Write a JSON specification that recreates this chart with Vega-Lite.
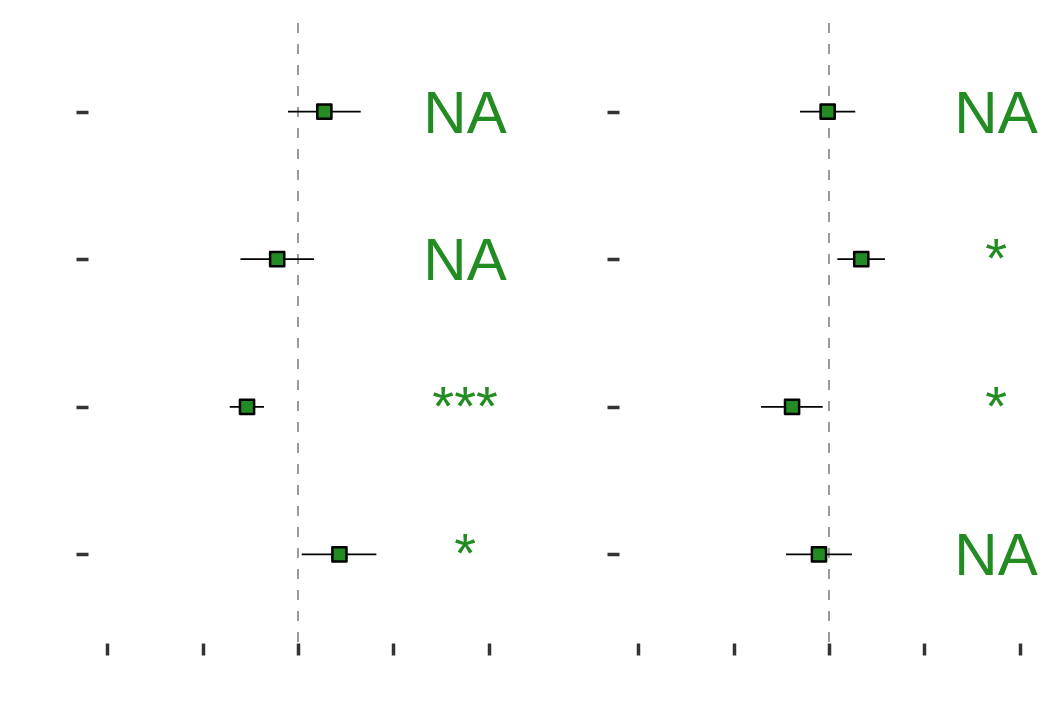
{
  "$schema": "https://vega.github.io/schema/vega-lite/v6.json",
  "padding": {"left": 74, "top": 22, "right": 0, "bottom": 0},
  "autosize": {"type": "pad"},
  "background": "white",
  "spacing": 97,
  "config": {
    "view": {"stroke": null},
    "axis": {"grid": false, "domain": false, "labels": false, "title": null, "ticks": true, "tickSize": 12, "tickWidth": 3.5, "tickColor": "#333333", "minExtent": 0}
  },
  "datasets": {
    "est": [
      {"panel": "A", "term": "t1", "est": 0.276, "lo": -0.105, "hi": 0.657, "sig": "NA"},
      {"panel": "A", "term": "t2", "est": -0.218, "lo": -0.603, "hi": 0.168, "sig": "NA"},
      {"panel": "A", "term": "t3", "est": -0.534, "lo": -0.715, "hi": -0.356, "sig": "***"},
      {"panel": "A", "term": "t4", "est": 0.434, "lo": 0.039, "hi": 0.821, "sig": "*"},
      {"panel": "B", "term": "t1", "est": -0.014, "lo": -0.304, "hi": 0.275, "sig": "NA"},
      {"panel": "B", "term": "t2", "est": 0.338, "lo": 0.087, "hi": 0.586, "sig": "*"},
      {"panel": "B", "term": "t3", "est": -0.387, "lo": -0.712, "hi": -0.066, "sig": "*"},
      {"panel": "B", "term": "t4", "est": -0.105, "lo": -0.45, "hi": 0.24, "sig": "NA"}
    ],
    "zero": [{"ref": 0}]
  },
  "hconcat": [
    {
      "width": 420, "height": 620,
      "layer": [
        {
          "data": {"name": "zero"},
          "mark": {"type": "rule", "color": "#9a9a9a", "strokeWidth": 2, "strokeDash": [10, 11]},
          "encoding": {"x": {"field": "ref", "type": "quantitative", "scale": {"domain": [-2.2, 2.2], "nice": false, "zero": false}, "axis": {"values": [-2, -1, 0, 1, 2]}}}
        },
        {
          "data": {"name": "est"},
          "transform": [{"filter": "datum.panel === 'A'"}],
          "layer": [
            {
              "mark": {"type": "rule", "color": "black", "strokeWidth": 1.8},
              "encoding": {
                "y": {"field": "term", "type": "nominal", "sort": null, "scale": {"type": "point", "padding": 0.6}, "axis": {}},
                "x": {"field": "lo", "type": "quantitative"},
                "x2": {"field": "hi"}
              }
            },
            {
              "mark": {"type": "point", "shape": "square", "filled": true, "fill": "#228B22", "stroke": "black", "strokeWidth": 2.5, "strokeJoin": "round", "size": 200, "opacity": 1},
              "encoding": {
                "y": {"field": "term", "type": "nominal", "sort": null},
                "x": {"field": "est", "type": "quantitative"}
              }
            },
            {
              "transform": [{"filter": "datum.sig === 'NA'"}],
              "mark": {"type": "text", "font": "Liberation Sans", "fontSize": 60, "color": "#228B22", "align": "center", "baseline": "alphabetic", "dy": 21},
              "encoding": {
                "y": {"field": "term", "type": "nominal", "sort": null},
                "x": {"datum": 1.75, "type": "quantitative"},
                "text": {"field": "sig"}
              }
            },
            {
              "transform": [{"filter": "datum.sig !== 'NA'"}],
              "mark": {"type": "text", "font": "Liberation Sans", "fontSize": 56, "color": "#228B22", "align": "center", "baseline": "alphabetic", "dy": 18},
              "encoding": {
                "y": {"field": "term", "type": "nominal", "sort": null},
                "x": {"datum": 1.75, "type": "quantitative"},
                "text": {"field": "sig"}
              }
            }
          ]
        }
      ]
    },
    {
      "width": 420, "height": 620,
      "layer": [
        {
          "data": {"name": "zero"},
          "mark": {"type": "rule", "color": "#9a9a9a", "strokeWidth": 2, "strokeDash": [10, 11]},
          "encoding": {"x": {"field": "ref", "type": "quantitative", "scale": {"domain": [-2.2, 2.2], "nice": false, "zero": false}, "axis": {"values": [-2, -1, 0, 1, 2]}}}
        },
        {
          "data": {"name": "est"},
          "transform": [{"filter": "datum.panel === 'B'"}],
          "layer": [
            {
              "mark": {"type": "rule", "color": "black", "strokeWidth": 1.8},
              "encoding": {
                "y": {"field": "term", "type": "nominal", "sort": null, "scale": {"type": "point", "padding": 0.6}, "axis": {}},
                "x": {"field": "lo", "type": "quantitative"},
                "x2": {"field": "hi"}
              }
            },
            {
              "mark": {"type": "point", "shape": "square", "filled": true, "fill": "#228B22", "stroke": "black", "strokeWidth": 2.5, "strokeJoin": "round", "size": 200, "opacity": 1},
              "encoding": {
                "y": {"field": "term", "type": "nominal", "sort": null},
                "x": {"field": "est", "type": "quantitative"}
              }
            },
            {
              "transform": [{"filter": "datum.sig === 'NA'"}],
              "mark": {"type": "text", "font": "Liberation Sans", "fontSize": 60, "color": "#228B22", "align": "center", "baseline": "alphabetic", "dy": 21},
              "encoding": {
                "y": {"field": "term", "type": "nominal", "sort": null},
                "x": {"datum": 1.75, "type": "quantitative"},
                "text": {"field": "sig"}
              }
            },
            {
              "transform": [{"filter": "datum.sig !== 'NA'"}],
              "mark": {"type": "text", "font": "Liberation Sans", "fontSize": 56, "color": "#228B22", "align": "center", "baseline": "alphabetic", "dy": 18},
              "encoding": {
                "y": {"field": "term", "type": "nominal", "sort": null},
                "x": {"datum": 1.75, "type": "quantitative"},
                "text": {"field": "sig"}
              }
            }
          ]
        }
      ]
    }
  ]
}
